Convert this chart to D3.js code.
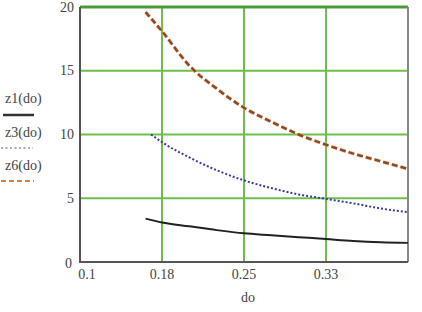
<!DOCTYPE html>
<html><head><meta charset="utf-8">
<script src="https://cdn.jsdelivr.net/npm/d3@7"></script>
<style>body{margin:0;background:#fff}svg{display:block}text{font-family:"Liberation Serif","DejaVu Serif",serif;fill:#444}</style>
</head><body><svg id="c" width="422" height="312"></svg>
<script>
const xTicks = [0.1, 0.175, 0.25, 0.325, 0.4];
const xTickLabels = ["0.1", "0.18", "0.25", "0.33", ""];
const yTicks = [0, 5, 10, 15, 20];
const yTickLabels = ["0", "5", "10", "15", "20"];
const doVals = [0.16, 0.175, 0.2, 0.225, 0.25, 0.275, 0.3, 0.325, 0.35, 0.375, 0.4];
const z1 = [3.4, 3.1, 2.8, 2.5, 2.25, 2.1, 1.95, 1.8, 1.65, 1.55, 1.5];
const z3doVals = [0.165, 0.175, 0.2, 0.225, 0.25, 0.275, 0.3, 0.325, 0.35, 0.375, 0.4];
const z3 = [10.0, 9.4, 8.2, 7.2, 6.4, 5.8, 5.3, 4.95, 4.6, 4.2, 3.9];
const z6 = [19.6, 18.1, 15.4, 13.6, 12.1, 11.0, 10.0, 9.2, 8.5, 7.9, 7.3];
const seriesNames = ["z1(do)", "z3(do)", "z6(do)"];

const svg = d3.select("#c");
const L = 80, R = 408, T = 7, B = 262;
const x = d3.scaleLinear().domain([0.1, 0.4]).range([L, R]);
const y = d3.scaleLinear().domain([0, 20]).range([B, T]);

// grid
const g = svg.append("g");
g.selectAll(".vg").data(xTicks.slice(1, -1)).join("line")
  .attr("x1", d => x(d)).attr("x2", d => x(d)).attr("y1", T).attr("y2", B)
  .attr("stroke", "#6cbf4a").attr("stroke-width", 2);
g.selectAll(".hg").data(yTicks.slice(1, -1)).join("line")
  .attr("x1", L).attr("x2", R).attr("y1", d => y(d)).attr("y2", d => y(d))
  .attr("stroke", "#6cbf4a").attr("stroke-width", 2);
// frame
svg.append("line").attr("x1", L).attr("x2", R).attr("y1", y(20)).attr("y2", y(20))
  .attr("stroke", "#4a9a3a").attr("stroke-width", 3);
svg.append("line").attr("x1", R).attr("x2", R).attr("y1", T).attr("y2", B)
  .attr("stroke", "#888").attr("stroke-width", 2);
svg.append("path").attr("d", `M${L},${T}V${B}H${R}`).attr("fill", "none")
  .attr("stroke", "#555").attr("stroke-width", 2);

// axis labels
const yl = svg.append("g");
yl.selectAll("text").data(yTicks).join("text")
  .attr("x", (d, i) => i === 0 ? 72 : 74).attr("y", d => y(d) + (d === 0 ? 1 : 0))
  .attr("text-anchor", "end").attr("dominant-baseline", "central")
  .attr("font-size", 14).text((d, i) => yTickLabels[i]);
const xl = svg.append("g");
xl.selectAll("text").data(xTicks).join("text")
  .attr("x", (d, i) => i === 0 ? x(d) + 7 : x(d)).attr("y", 274)
  .attr("text-anchor", "middle").attr("dominant-baseline", "central")
  .attr("font-size", 14).text((d, i) => xTickLabels[i]);
svg.append("text").attr("x", 248).attr("y", 297).attr("text-anchor", "middle")
  .attr("dominant-baseline", "central").attr("font-size", 14).text("do");

// curves
const line = d3.line().x(d => x(d[0])).y(d => y(d[1])).curve(d3.curveMonotoneX);
svg.append("path").datum(doVals.map((d, i) => [d, z6[i]])).attr("d", line)
  .attr("fill", "none").attr("stroke", "#f4b07a").attr("stroke-width", 4).attr("stroke-dasharray", "6,3").attr("opacity", 0.6);
svg.append("path").datum(doVals.map((d, i) => [d, z6[i]])).attr("d", line)
  .attr("fill", "none").attr("stroke", "#8a4a2a").attr("stroke-width", 2.5).attr("stroke-dasharray", "6,3");
svg.append("path").datum(z3doVals.map((d, i) => [d, z3[i]])).attr("d", line)
  .attr("fill", "none").attr("stroke", "#3a3aa8").attr("stroke-width", 2).attr("stroke-dasharray", "2,2");
svg.append("path").datum(doVals.map((d, i) => [d, z1[i]])).attr("d", line)
  .attr("fill", "none").attr("stroke", "#222").attr("stroke-width", 2);

// legend
const lg = svg.append("g");
const ly = [98, 132, 165];
lg.selectAll("text").data(seriesNames).join("text")
  .attr("x", 5).attr("y", (d, i) => ly[i]).attr("dominant-baseline", "central")
  .attr("font-size", 14).text(d => d);
lg.append("line").attr("x1", 3).attr("x2", 34).attr("y1", 115).attr("y2", 115)
  .attr("stroke", "#333").attr("stroke-width", 2.5);
lg.append("line").attr("x1", 1).attr("x2", 33).attr("y1", 148).attr("y2", 148)
  .attr("stroke", "#8888cc").attr("stroke-width", 1.5).attr("stroke-dasharray", "2,2.5");
lg.append("line").attr("x1", 1).attr("x2", 34).attr("y1", 181).attr("y2", 181)
  .attr("stroke", "#d08040").attr("stroke-width", 2).attr("stroke-dasharray", "5,3");
</script></body></html>
